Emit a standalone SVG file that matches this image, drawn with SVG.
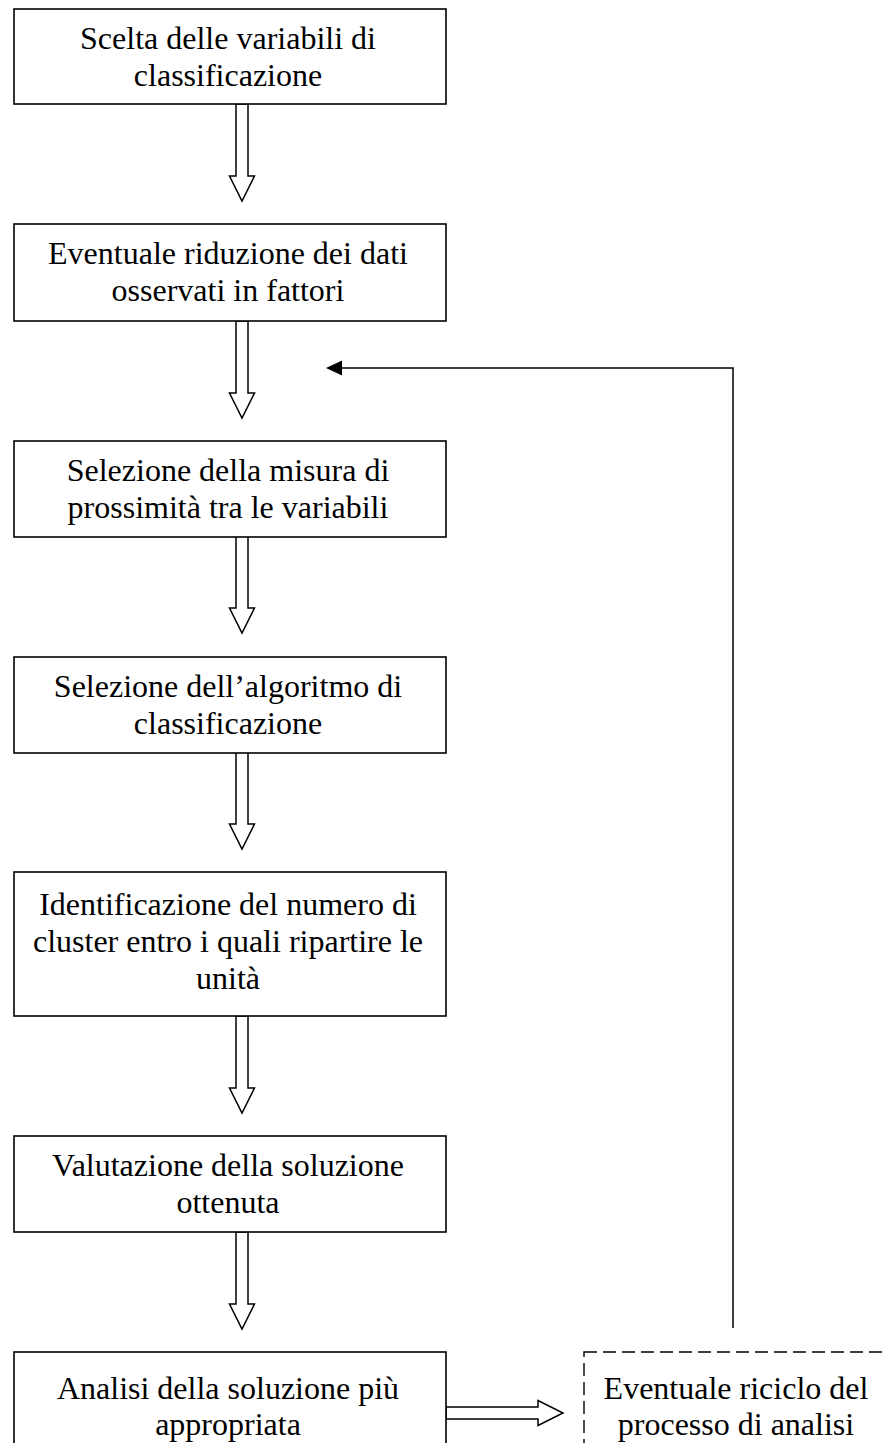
<svg xmlns="http://www.w3.org/2000/svg" width="886" height="1443" viewBox="0 0 886 1443">
  <style>
    .box { fill: #fff; stroke: #000; stroke-width: 1.6; }
    .dash { fill: #fff; stroke: #000; stroke-width: 1.4; stroke-dasharray: 13 6; }
    .lbl { font-family: "Liberation Serif", "Times New Roman", serif; font-size: 32px; fill: #000; text-anchor: middle; }
    .blk { fill: #fff; stroke: #000; stroke-width: 1.5; stroke-linejoin: miter; }
    .line { fill: none; stroke: #000; stroke-width: 1.5; }
  </style>
  <defs>
    <!-- hollow block arrow pointing down, origin at top centre of shaft -->
    <path id="down" d="M -6 0 L 6 0 L 6 72 L 12.5 72 L 0 97 L -12.5 72 L -6 72 Z"/>
  </defs>

  <g id="connectors">
    <use href="#down" class="blk" x="242" y="104"/>
    <use href="#down" class="blk" x="242" y="321"/>
    <use href="#down" class="blk" x="242" y="536"/>
    <use href="#down" class="blk" x="242" y="752"/>
    <use href="#down" class="blk" x="242" y="1016"/>
    <use href="#down" class="blk" x="242" y="1232"/>
    <!-- horizontal block arrow to the recycle box -->
    <path class="blk" d="M 446 1407 L 538 1407 L 538 1400.5 L 563 1413 L 538 1425.5 L 538 1419 L 446 1419 Z"/>
    <!-- feedback loop -->
    <path class="line" d="M 733 1328 L 733 368 L 342 368"/>
    <path d="M 326 368 L 342 360.5 L 342 375.5 Z" fill="#000"/>
  </g>

  <g id="n1">
    <rect class="box" x="14" y="9" width="432" height="95"/>
    <text class="lbl" x="228" y="49">Scelta delle variabili di</text>
    <text class="lbl" x="228" y="86">classificazione</text>
  </g>
  <g id="n2">
    <rect class="box" x="14" y="224" width="432" height="97"/>
    <text class="lbl" x="228" y="264">Eventuale riduzione dei dati</text>
    <text class="lbl" x="228" y="301">osservati in fattori</text>
  </g>
  <g id="n3">
    <rect class="box" x="14" y="441" width="432" height="96"/>
    <text class="lbl" x="228" y="481">Selezione della misura di</text>
    <text class="lbl" x="228" y="518">prossimità tra le variabili</text>
  </g>
  <g id="n4">
    <rect class="box" x="14" y="657" width="432" height="96"/>
    <text class="lbl" x="228" y="697">Selezione dell’algoritmo di</text>
    <text class="lbl" x="228" y="734">classificazione</text>
  </g>
  <g id="n5">
    <rect class="box" x="14" y="872" width="432" height="144"/>
    <text class="lbl" x="228" y="915">Identificazione del numero di</text>
    <text class="lbl" x="228" y="952">cluster entro i quali ripartire le</text>
    <text class="lbl" x="228" y="989">unità</text>
  </g>
  <g id="n6">
    <rect class="box" x="14" y="1136" width="432" height="96"/>
    <text class="lbl" x="228" y="1176">Valutazione della soluzione</text>
    <text class="lbl" x="228" y="1213">ottenuta</text>
  </g>
  <g id="n7">
    <rect class="box" x="14" y="1352" width="432" height="110"/>
    <text class="lbl" x="228" y="1399">Analisi della soluzione più</text>
    <text class="lbl" x="228" y="1435">appropriata</text>
  </g>
  <g id="n8">
    <rect class="dash" x="584" y="1352" width="320" height="110"/>
    <text class="lbl" x="736" y="1399">Eventuale riciclo del</text>
    <text class="lbl" x="736" y="1435">processo di analisi</text>
  </g>
</svg>
